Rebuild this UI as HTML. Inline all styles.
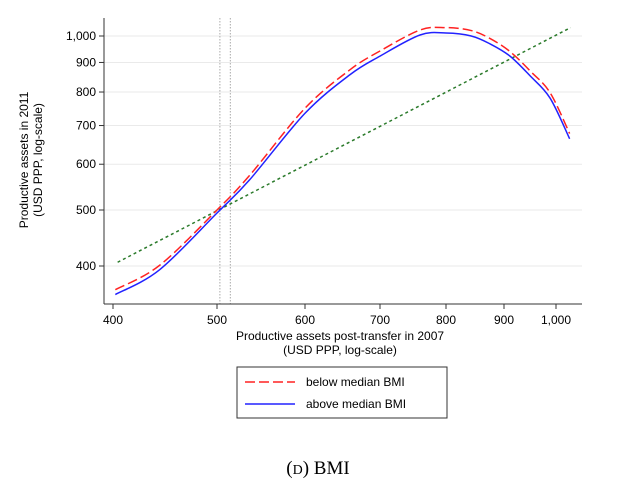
<!DOCTYPE html>
<html><head><meta charset="utf-8"><style>
body{margin:0;background:#fff;width:630px;height:497px;overflow:hidden}
text{font-family:"Liberation Sans",sans-serif}
</style></head><body>
<svg id="chart" width="630" height="497">
<g id="grid"></g><g id="axes"></g><g id="series"></g>
<g>
<rect x="237" y="367" width="210" height="51" fill="#fff" stroke="#333" stroke-width="1"/>
<line x1="245" y1="382" x2="295" y2="382" stroke="#f22" stroke-width="1.5" stroke-dasharray="10,4"/>
<text x="306" y="386" font-size="12">below median BMI</text>
<line x1="245" y1="404" x2="295" y2="404" stroke="#22f" stroke-width="1.5"/>
<text x="306" y="408" font-size="12">above median BMI</text>
</g>
<text x="318" y="474" font-size="19" text-anchor="middle" style="font-family:'Liberation Serif',serif">(<tspan font-size="14">D</tspan>) BMI</text>
</svg>
<script>
const xVals=[402,442,500,535,600,658,700,759,800,842,875,911,949,988,1028];
const blueVals=[357,394,494,564,735,857,923,1004,1012,1000,969,923,853,781,664];
const redVals=[364,401,500,574,750,874,942,1024,1034,1022,990,940,870,798,678];
const greenX=[404,1030];
const greenY=[406,1034];
const yTicks=[400,500,600,700,800,900,1000];
const xTicks=[400,500,600,700,800,900,1000];
const vLines=[503,514];
const NS="http://www.w3.org/2000/svg";
const xTickPx=[113,217,305,380,446,504,556];
function X(v){const l=Math.log(v);let i=0;while(i<xTicks.length-2&&l>Math.log(xTicks[i+1]))i++;
 const a=Math.log(xTicks[i]),b=Math.log(xTicks[i+1]);return xTickPx[i]+(l-a)/(b-a)*(xTickPx[i+1]-xTickPx[i]);}
const Y=v=>266-251*Math.log(v/400);
function mk(p,tag,a){const e=document.createElementNS(NS,tag);for(const k in a)e.setAttribute(k,a[k]);p.appendChild(e);return e;}
const grid=document.getElementById('grid'),axes=document.getElementById('axes'),ser=document.getElementById('series');
const fmt=v=>v>=1000?v.toLocaleString('en-US'):String(v);
yTicks.forEach(v=>{
 const l=mk(grid,'line',{x1:104,x2:582,y1:Y(v),y2:Y(v),stroke:'#eaeaea','stroke-width':1});
 
 
 mk(axes,'line',{x1:99,x2:104,y1:Y(v),y2:Y(v),stroke:'#333'});
 const t=mk(axes,'text',{x:96,y:Y(v)+4,'font-size':12,'text-anchor':'end'});t.textContent=fmt(v);
 
 
});
xTicks.forEach(v=>{
 mk(axes,'line',{x1:X(v),x2:X(v),y1:304,y2:309,stroke:'#333'});
 const t=mk(axes,'text',{x:X(v),y:324,'font-size':12,'text-anchor':'middle'});t.textContent=fmt(v);
 
 
});
vLines.forEach(v=>{
 const l=mk(grid,'line',{x1:X(v),x2:X(v),y1:18,y2:304,stroke:'#aaa','stroke-dasharray':'1.5,1.5','stroke-width':1});
 
 
});
mk(axes,'line',{x1:104,x2:104,y1:18,y2:304,stroke:'#333'});
mk(axes,'line',{x1:104,x2:582,y1:304,y2:304,stroke:'#333'});
const xt=mk(axes,'text',{x:340,y:340,'font-size':12,'text-anchor':'middle'});xt.textContent='Productive assets post-transfer in 2007';


const xt2=mk(axes,'text',{x:340,y:354,'font-size':12,'text-anchor':'middle'});xt2.textContent='(USD PPP, log-scale)';


const yt=mk(axes,'text',{x:0,y:0,'font-size':12,'text-anchor':'middle',transform:'translate(28,160) rotate(-90)'});yt.textContent='Productive assets in 2011';


const yt2=mk(axes,'text',{x:0,y:0,'font-size':12,'text-anchor':'middle',transform:'translate(42,160) rotate(-90)'});yt2.textContent='(USD PPP, log-scale)';


function smooth(xs,ys){const p=xs.map((x,i)=>[X(x),Y(ys[i])]);let d=`M${p[0][0]},${p[0][1]}`;
 for(let i=0;i<p.length-1;i++){const p0=p[i-1]||p[i],p1=p[i],p2=p[i+1],p3=p[i+2]||p2;
 d+=` C${p1[0]+(p2[0]-p0[0])/6},${p1[1]+(p2[1]-p0[1])/6} ${p2[0]-(p3[0]-p1[0])/6},${p2[1]-(p3[1]-p1[1])/6} ${p2[0]},${p2[1]}`;}return d;}
const g=mk(ser,'line',{x1:X(greenX[0]),y1:Y(greenY[0]),x2:X(greenX[1]),y2:Y(greenY[1]),stroke:'#2a7a2a','stroke-width':1.5,'stroke-dasharray':'3,3'});


const b=mk(ser,'path',{d:smooth(xVals,blueVals),fill:'none',stroke:'#2222ff','stroke-width':1.5});


const r=mk(ser,'path',{d:smooth(xVals,redVals),fill:'none',stroke:'#ff2222','stroke-width':1.5,'stroke-dasharray':'10,4'});


</script>
</body></html>
